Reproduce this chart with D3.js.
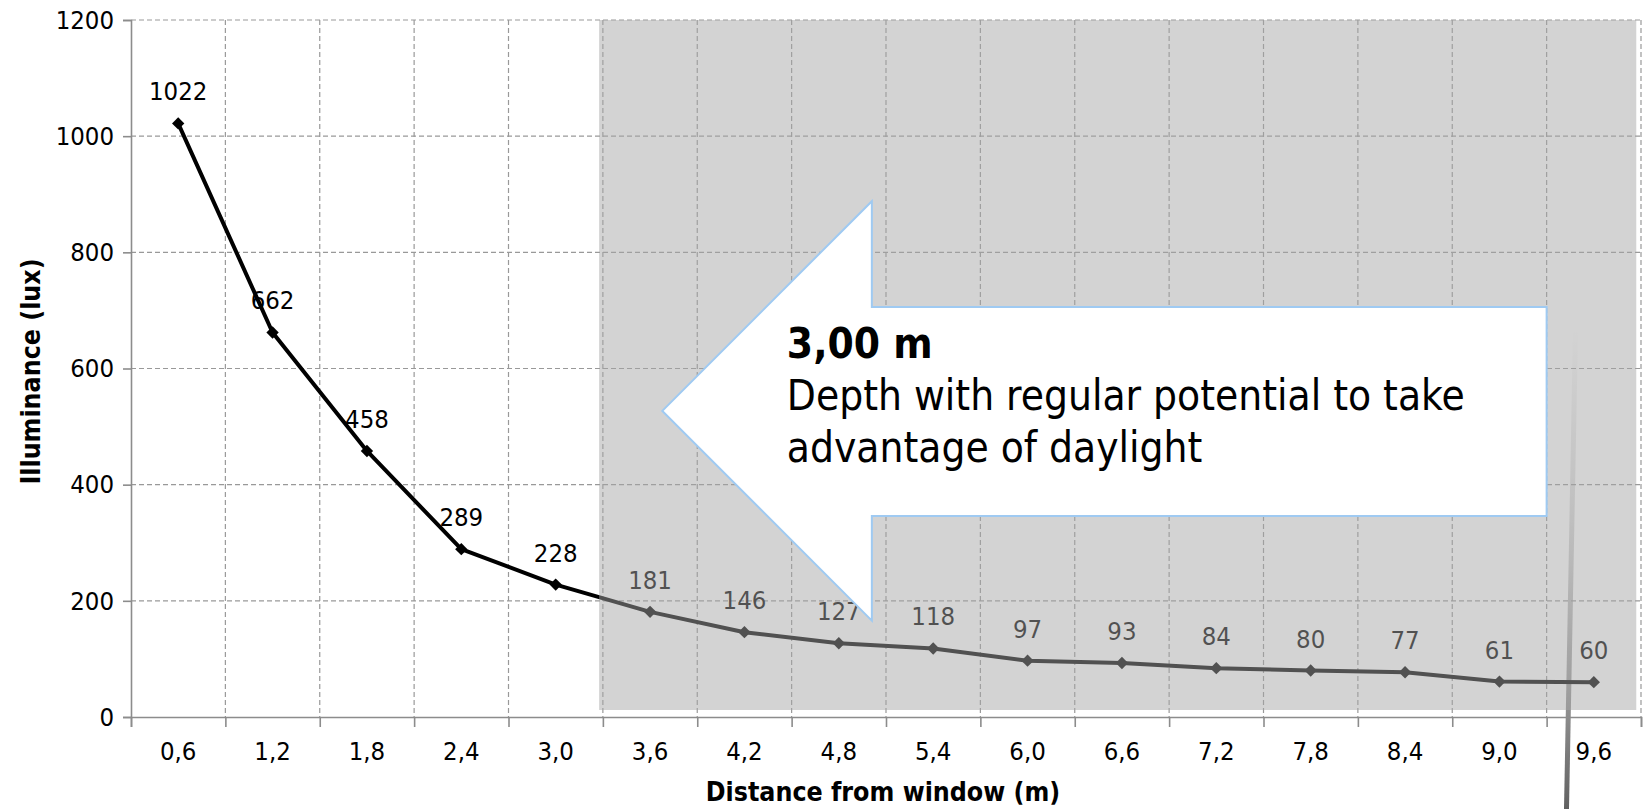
<!DOCTYPE html>
<html>
<head>
<meta charset="utf-8">
<script src="https://cdn.jsdelivr.net/npm/d3@7"></script>
<style>
  body { margin: 0; background: #fff; }
  svg text { font-family: "DejaVu Sans Condensed", "DejaVu Sans", sans-serif; font-stretch: condensed; }
</style>
</head>
<body>
<div id="wrapper"></div>
<script>
// data
const distances = ["0,6", "1,2", "1,8", "2,4", "3,0", "3,6", "4,2", "4,8",
  "5,4", "6,0", "6,6", "7,2", "7,8", "8,4", "9,0", "9,6"];
const illuminance = [1022, 662, 458, 289, 228, 181, 146, 127, 118, 97, 93, 84, 80, 77, 61, 60];
const yTicks = [0, 200, 400, 600, 800, 1000, 1200];

// annotation (in category-slot units / lux)
const shadeFrom = 4.96, shadeTo = 15.95;
const arrowTip = [5.63, 527], arrowHeadX = 7.85, arrowEndX = 15.0;
const arrowHeadTop = 888, arrowHeadBottom = 166, shaftTop = 706, shaftBottom = 346;
const noteTitle = "3,00 m";
const noteLines = ["Depth with regular potential to take", "advantage of daylight"];

function drawChart() {
  const dimensions = {
    width: 1647,
    height: 809,
    margin: { top: 20, right: 6, bottom: 92, left: 131 },
  };
  dimensions.boundedWidth = dimensions.width - dimensions.margin.left - dimensions.margin.right;
  dimensions.boundedHeight = dimensions.height - dimensions.margin.top - dimensions.margin.bottom;

  const svg = d3.select("#wrapper").append("svg")
    .attr("width", dimensions.width)
    .attr("height", dimensions.height);

  // faint background streak (decoration from the slide photo)
  const defs = svg.append("defs");
  const grad = defs.append("linearGradient").attr("id", "streak")
    .attr("x1", 0).attr("y1", 0).attr("x2", 0).attr("y2", 1);
  grad.append("stop").attr("offset", "0%").attr("stop-color", "#777").attr("stop-opacity", 0);
  grad.append("stop").attr("offset", "45%").attr("stop-color", "#666").attr("stop-opacity", 0.3);
  grad.append("stop").attr("offset", "100%").attr("stop-color", "#444").attr("stop-opacity", 0.85);
  svg.append("path")
    .attr("d", "M1578,330 L1569,809 L1564,809 L1573,330 Z")
    .attr("fill", "url(#streak)");

  const bounds = svg.append("g")
    .attr("transform", `translate(${dimensions.margin.left},${dimensions.margin.top})`);

  // scales
  const xScale = d3.scaleBand().domain(distances).range([0, dimensions.boundedWidth]);
  const slot = d3.scaleLinear().domain([0, distances.length]).range([0, dimensions.boundedWidth]);
  const yScale = d3.scaleLinear().domain([0, 1200]).range([dimensions.boundedHeight, 0]);
  const xCenter = (d) => xScale(d) + xScale.bandwidth() / 2;

  // grid
  bounds.append("g").selectAll("line").data(yTicks.filter((d) => d > 0)).join("line")
    .attr("x1", 0).attr("x2", dimensions.boundedWidth)
    .attr("y1", (d) => yScale(d)).attr("y2", (d) => yScale(d))
    .attr("stroke", "#999").attr("stroke-width", 1.2).attr("stroke-dasharray", "5,3");
  bounds.append("g").selectAll("line").data(d3.range(1, distances.length + 1)).join("line")
    .attr("x1", (d) => slot(d)).attr("x2", (d) => slot(d))
    .attr("y1", 0).attr("y2", dimensions.boundedHeight)
    .attr("stroke", "#999").attr("stroke-width", 1.2).attr("stroke-dasharray", "5,3");

  // axes
  const yAxis = bounds.append("g")
    .call(d3.axisLeft(yScale).tickValues(yTicks).tickFormat(d3.format("d")).tickSize(8).tickPadding(9));
  const xTicks = bounds.append("g")
    .attr("transform", `translate(0,${dimensions.boundedHeight})`)
    .call(d3.axisBottom(slot).tickValues(d3.range(0, distances.length + 1)).tickSize(10).tickFormat(""));
  const xAxis = bounds.append("g")
    .attr("transform", `translate(0,${dimensions.boundedHeight})`)
    .call(d3.axisBottom(xScale).tickSize(0).tickPadding(25));
  xAxis.select(".domain").remove();
  [yAxis, xTicks].forEach((a) => {
    a.selectAll(".domain, line").attr("stroke", "#8c8c8c").attr("stroke-width", 1.6);
  });
  [yAxis, xAxis].forEach((a) => {
    a.attr("font-size", 25.5).attr("font-family", null);
    a.selectAll("text").attr("fill", "#000");
  });

  // line + markers + labels
  const lineGenerator = d3.line()
    .x((d, i) => xCenter(distances[i]))
    .y((d) => yScale(d));
  bounds.append("path")
    .attr("d", lineGenerator(illuminance))
    .attr("fill", "none").attr("stroke", "#000").attr("stroke-width", 4)
    .attr("stroke-linejoin", "round");
  bounds.append("g").selectAll("path").data(illuminance).join("path")
    .attr("d", d3.symbol(d3.symbolSquare, 76))
    .attr("transform", (d, i) => `translate(${xCenter(distances[i])},${yScale(d)}) rotate(45)`)
    .attr("fill", "#000");
  bounds.append("g").selectAll("text").data(illuminance).join("text")
    .attr("x", (d, i) => xCenter(distances[i]))
    .attr("y", (d) => yScale(d) - 23)
    .attr("text-anchor", "middle")
    .attr("font-size", 25.5)
    .text((d) => d);

  // grey shading over the deeper part of the room
  bounds.append("rect")
    .attr("x", slot(shadeFrom))
    .attr("width", slot(shadeTo) - slot(shadeFrom))
    .attr("y", yScale(1200))
    .attr("height", yScale(0) - yScale(1200) - 7)
    .attr("fill", "#a5a5a5").attr("fill-opacity", 0.49);

  // block arrow annotation
  const arrowPts = [
    [slot(arrowTip[0]), yScale(arrowTip[1])],
    [slot(arrowHeadX), yScale(arrowHeadTop)],
    [slot(arrowHeadX), yScale(shaftTop)],
    [slot(arrowEndX), yScale(shaftTop)],
    [slot(arrowEndX), yScale(shaftBottom)],
    [slot(arrowHeadX), yScale(shaftBottom)],
    [slot(arrowHeadX), yScale(arrowHeadBottom)],
  ];
  bounds.append("path")
    .attr("d", d3.line()(arrowPts) + "Z")
    .attr("fill", "#fff").attr("stroke", "#9fcaf2").attr("stroke-width", 2);

  const note = bounds.append("text")
    .attr("x", slot(arrowHeadX) - 85)
    .attr("y", yScale(shaftTop) + 51)
    .attr("font-size", 42);
  note.append("tspan").attr("font-weight", "bold").text(noteTitle);
  noteLines.forEach((t) => {
    note.append("tspan").attr("x", slot(arrowHeadX) - 85).attr("dy", 52).text(t);
  });

  // axis titles
  svg.append("text")
    .attr("x", dimensions.margin.left + dimensions.boundedWidth / 2 - 3)
    .attr("y", 801)
    .attr("text-anchor", "middle")
    .attr("font-size", 26.5).attr("font-weight", "bold")
    .text("Distance from window (m)");
  svg.append("text")
    .attr("transform", `translate(40,${dimensions.margin.top + dimensions.boundedHeight / 2 + 3}) rotate(-90)`)
    .attr("text-anchor", "middle")
    .attr("font-size", 26.5).attr("font-weight", "bold")
    .text("Illuminance (lux)");
}

drawChart();
</script>
</body>
</html>
